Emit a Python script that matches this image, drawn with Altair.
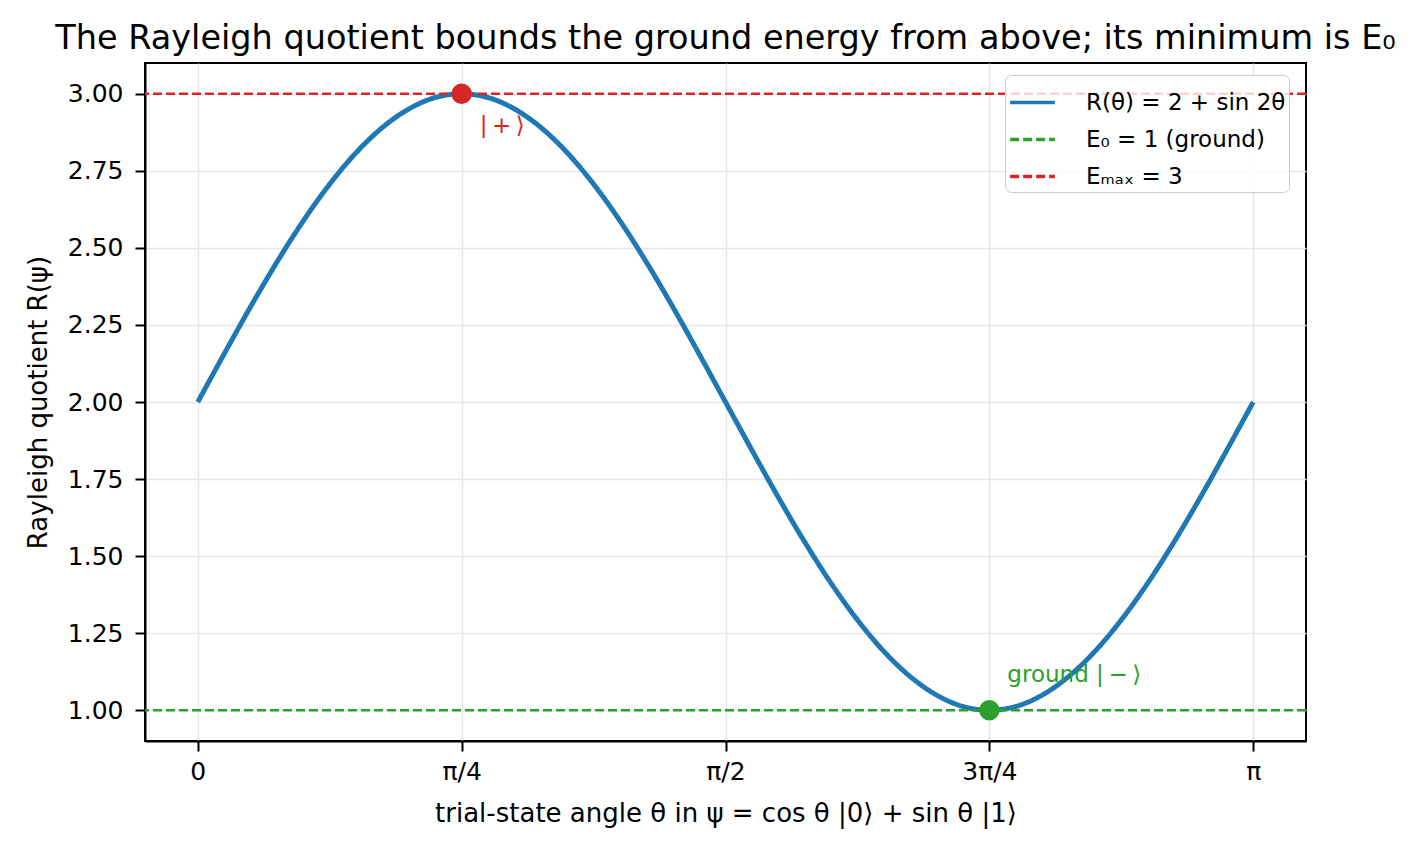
import altair as alt
import pandas as pd

# curve R(theta)
theta = [0, 0.0785, 0.1571, 0.2356, 0.3142, 0.3927, 0.4712, 0.5498, 0.6283, 0.7069,
         0.7854, 0.8639, 0.9425, 1.0210, 1.0996, 1.1781, 1.2566, 1.3352, 1.4137, 1.4923,
         1.5708, 1.6493, 1.7279, 1.8064, 1.8850, 1.9635, 2.0420, 2.1206, 2.1991, 2.2777,
         2.3562, 2.4347, 2.5133, 2.5918, 2.6704, 2.7489, 2.8274, 2.9060, 2.9845, 3.0631,
         3.1416]
rayleigh = [2.000, 2.156, 2.309, 2.454, 2.588, 2.707, 2.809, 2.891, 2.951, 2.988,
            3.000, 2.988, 2.951, 2.891, 2.809, 2.707, 2.588, 2.454, 2.309, 2.156,
            2.000, 1.844, 1.691, 1.546, 1.412, 1.293, 1.191, 1.109, 1.049, 1.012,
            1.000, 1.012, 1.049, 1.109, 1.191, 1.293, 1.412, 1.546, 1.691, 1.844,
            2.000]

series_names = ["R(θ) = 2 + sin 2θ", "E₀ = 1 (ground)", "Eₘₐₓ = 3"]
series_colors = ["#1f77b4", "#2ca02c", "#d62728"]
series_dash = [[1, 0], [9, 4], [9, 4]]
hline_values = [1.0, 3.0]
hline_names = ["E₀ = 1 (ground)", "Eₘₐₓ = 3"]

point_theta = [0.7854, 2.3562]
point_value = [3.0, 1.0]
point_colors = ["#d62728", "#2ca02c"]
point_labels = ["|\u2009+\u2009⟩", "ground |\u2009−\u2009⟩"]

x_ticks = [0, 0.7854, 1.5708, 2.3562, 3.1416]
x_tick_labels = ["0", "π/4", "π/2", "3π/4", "π"]
y_ticks = [1.0, 1.25, 1.5, 1.75, 2.0, 2.25, 2.5, 2.75, 3.0]

X_DOMAIN = [-0.1571, 3.2987]
Y_DOMAIN = [0.9, 3.1]
FONT = "DejaVu Sans"

curve_df = pd.DataFrame({"theta": theta, "R": rayleigh, "series": series_names[0]})
hline_df = pd.DataFrame({"y": hline_values, "series": hline_names})
pts_df = pd.DataFrame({"theta": point_theta, "R": point_value, "c": point_colors, "label": point_labels})

label_arr = "[" + ",".join("'" + s + "'" for s in x_tick_labels) + "]"

x_enc = alt.X("theta:Q", scale=alt.Scale(domain=X_DOMAIN, nice=False, zero=False),
              axis=alt.Axis(values=x_ticks, labelExpr=label_arr + "[round(datum.value/0.7854)]",
                            title="trial-state angle θ in ψ = cos θ |0⟩ + sin θ |1⟩"))
y_enc = alt.Y("R:Q", scale=alt.Scale(domain=Y_DOMAIN, nice=False, zero=False),
              axis=alt.Axis(values=y_ticks, format=".2f", title="Rayleigh quotient R(ψ)"))

color_scale = alt.Scale(domain=series_names, range=series_colors)
dash_scale = alt.Scale(domain=series_names, range=series_dash)
legend = alt.Legend(title=None, orient="none", legendX=860, legendY=12,
                    symbolType="stroke", symbolSize=2000, symbolStrokeWidth=3.5,
                    labelFontSize=23, labelFont=FONT, labelColor="black", labelLimit=500,
                    fillColor="rgba(255,255,255,0.8)", strokeColor="#cccccc",
                    cornerRadius=6, padding=3, rowPadding=-2, labelOffset=29)

curve = alt.Chart(curve_df).mark_line(strokeWidth=5, interpolate="monotone").encode(
    x=x_enc, y=y_enc,
    color=alt.Color("series:N", scale=color_scale, legend=legend),
    strokeDash=alt.StrokeDash("series:N", scale=dash_scale, legend=legend),
)

hlines = alt.Chart(hline_df).mark_rule(strokeWidth=2.4).encode(
    y=alt.Y("y:Q", scale=alt.Scale(domain=Y_DOMAIN, nice=False, zero=False)),
    color=alt.Color("series:N", scale=color_scale, legend=legend),
    strokeDash=alt.StrokeDash("series:N", scale=dash_scale, legend=legend),
)

points = alt.Chart(pts_df).mark_circle(size=420, opacity=1).encode(
    x="theta:Q", y="R:Q", color=alt.Color("c:N", scale=None, legend=None)
)

txt_plus = alt.Chart(pts_df.iloc[[0]]).mark_text(
    align="left", baseline="middle", dx=18, dy=32, fontSize=23, font=FONT
).encode(x="theta:Q", y="R:Q", text="label:N", color=alt.Color("c:N", scale=None, legend=None))

txt_ground = alt.Chart(pts_df.iloc[[1]]).mark_text(
    align="left", baseline="middle", dx=18, dy=-35, fontSize=23, font=FONT
).encode(x="theta:Q", y="R:Q", text="label:N", color=alt.Color("c:N", scale=None, legend=None))

chart = alt.layer(curve, hlines, points, txt_plus, txt_ground).resolve_scale(
    color="shared"
).properties(
    width=1161, height=678,
    title=alt.TitleParams("The Rayleigh quotient bounds the ground energy from above; its minimum is E₀",
                          fontSize=33.5, font=FONT, fontWeight="normal", color="black",
                          anchor="middle", offset=7),
    autosize=alt.AutoSizeParams(type="none"),
    padding={"left": 145, "top": 63, "right": 110, "bottom": 111},
).configure_view(stroke="black", strokeWidth=2).configure_axis(
    labelFont=FONT, titleFont=FONT, labelFontSize=25, titleFontSize=26,
    labelColor="black", titleColor="black", titleFontWeight="normal",
    tickColor="black", tickSize=10, tickWidth=2, domainColor="black", domainWidth=2,
    gridColor="#e6e6e6", gridWidth=1.5,
).configure_axisY(titlePadding=16, labelPadding=12).configure_axisX(titlePadding=16, labelPadding=8)

chart.save("out.html", embed_options={"renderer": "svg", "actions": False})
